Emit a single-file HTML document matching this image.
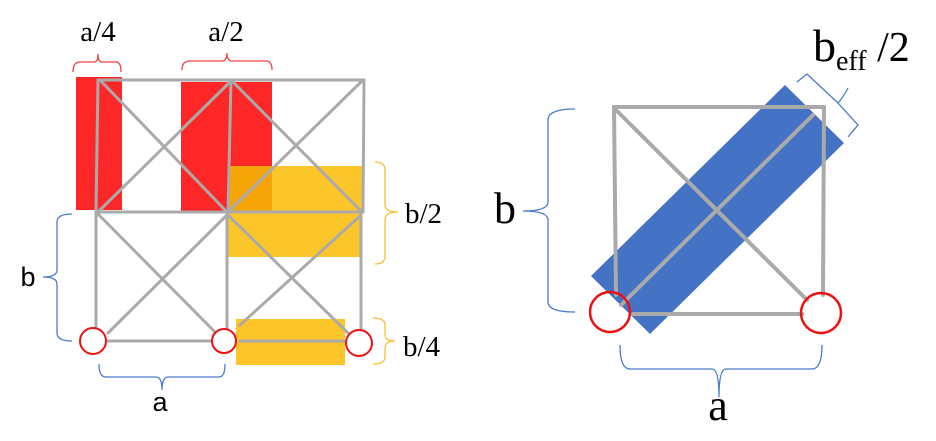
<!DOCTYPE html>
<html><head><style>body{margin:0;background:#fff}svg{display:block}</style></head><body>
<svg width="936" height="441" viewBox="0 0 936 441" xmlns="http://www.w3.org/2000/svg" font-family="Liberation Serif, serif">
<rect width="936" height="441" fill="#fff"/>
<rect x="76" y="77" width="46" height="133" fill="#fe2727"/>
<rect x="181" y="82" width="91" height="130" fill="#fe2727"/>
<rect x="228" y="166" width="134" height="91" fill="#fcc62a"/>
<rect x="229" y="166" width="43" height="46" fill="#f7a60a"/>
<rect x="236" y="319" width="109" height="46" fill="#fcc62a"/>
<g stroke="#aaaaaa" stroke-width="3" fill="none" stroke-linecap="round">
<line x1="98" y1="80" x2="364" y2="80"/>
<line x1="96" y1="212" x2="363" y2="212"/>
<line x1="98" y1="80" x2="96" y2="212"/>
<line x1="231" y1="80" x2="228" y2="212"/>
<line x1="364" y1="80" x2="363" y2="212"/>
<line x1="100" y1="80" x2="227" y2="212"/>
<line x1="230" y1="82" x2="98" y2="212"/>
<line x1="233" y1="82" x2="362" y2="212"/>
<line x1="363" y1="80" x2="228" y2="212"/>
<line x1="96" y1="212" x2="96" y2="330"/>
<line x1="227" y1="212" x2="227" y2="332"/>
<line x1="361" y1="212" x2="361" y2="330"/>
<line x1="96" y1="212" x2="215" y2="332"/>
<line x1="227" y1="215" x2="108" y2="333"/>
<line x1="228" y1="215" x2="350" y2="335"/>
<line x1="361" y1="215" x2="240" y2="325"/>
<line x1="106" y1="341" x2="212" y2="341"/>
<line x1="240" y1="341" x2="345" y2="341"/>
</g>
<g stroke="#ee1111" stroke-width="2" fill="#fff">
<circle cx="93" cy="341" r="13"/>
<circle cx="224" cy="341" r="12"/>
<circle cx="359" cy="343" r="13"/>
</g>
<g fill="none" stroke-width="1.3">
<path d="M73,72 Q73,62 80,62 L94,62 Q98,62 98,54 Q98,62 102,62 L116,62 Q121,62 121,72" stroke="#f04040"/>
<path d="M182,70 Q182,61 190,61 L222,61 Q227,61 227,53 Q227,61 232,61 L266,61 Q272,61 272,70" stroke="#f04040"/>
<path d="M375,162 Q385,162 385,170 L385,205 Q385,212 398,212 Q385,212 385,220 L385,256 Q385,264 375,264" stroke="#f8c030"/>
<path d="M373,318 Q385,318 385,325 L385,335 Q385,341 395,341 Q385,341 385,348 L385,357 Q385,364 373,364" stroke="#f8c030"/>
<path d="M72,214 Q57,214 57,222 L57,270 Q57,277 43,277 Q57,277 57,284 L57,333 Q57,341 72,341" stroke="#4a7acb"/>
<path d="M99,364 Q99,377 106,377 L156,377 Q162,377 162,390 Q162,377 168,377 L219,377 Q225,377 225,364" stroke="#4a7acb"/>
</g>
<g font-size="29" fill="#000">
<text x="98" y="41" text-anchor="middle">a/4</text>
<text x="226" y="41" text-anchor="middle">a/2</text>
<text x="405" y="223">b/2</text>
<text x="403" y="356">b/4</text>
<text x="28" y="286" text-anchor="middle" font-family="Liberation Sans, sans-serif" font-size="27">b</text>
<text x="160" y="411" text-anchor="middle" font-family="Liberation Sans, sans-serif" font-size="27">a</text>
</g>
<polygon points="785,85 844,143 650,334 591,276" fill="#4472c4"/>
<g stroke="#aaaaaa" stroke-width="4" fill="none" stroke-linecap="round">
<line x1="614" y1="107" x2="824" y2="107"/>
<line x1="614" y1="107" x2="616" y2="295"/>
<line x1="824" y1="107" x2="823" y2="295"/>
<line x1="633" y1="314" x2="802" y2="314"/>
<line x1="614" y1="108" x2="807" y2="300"/>
<line x1="621" y1="305" x2="813" y2="115"/>
</g>
<g stroke="#ee1111" stroke-width="2.5" fill="none">
<circle cx="610" cy="312" r="20"/>
<circle cx="821" cy="313" r="20"/>
</g>
<g fill="none" stroke="#4a7acb" stroke-width="1.3">
<path d="M575,109 Q548,109 548,120 L548,202 Q548,211 523,211 Q548,211 548,220 L548,302 Q548,312 575,312"/>
<path d="M620,345 Q620,369 630,369 L712,369 Q719,369 719,397 Q719,369 726,369 L812,369 Q822,369 822,345"/>
<path d="M797,82 L807,74 L838,103 Q842,99 848,88 Q842,99 838,103 L858,125 L848,137"/>
</g>
<g fill="#000">
<text x="813" y="61" font-size="46">b<tspan font-size="28" dy="9">eff</tspan><tspan dy="-9" font-size="42"> /2</tspan></text>
<text x="505" y="223" text-anchor="middle" font-size="44">b</text>
<text x="718" y="420" text-anchor="middle" font-size="44">a</text>
</g>
</svg>
</body></html>
